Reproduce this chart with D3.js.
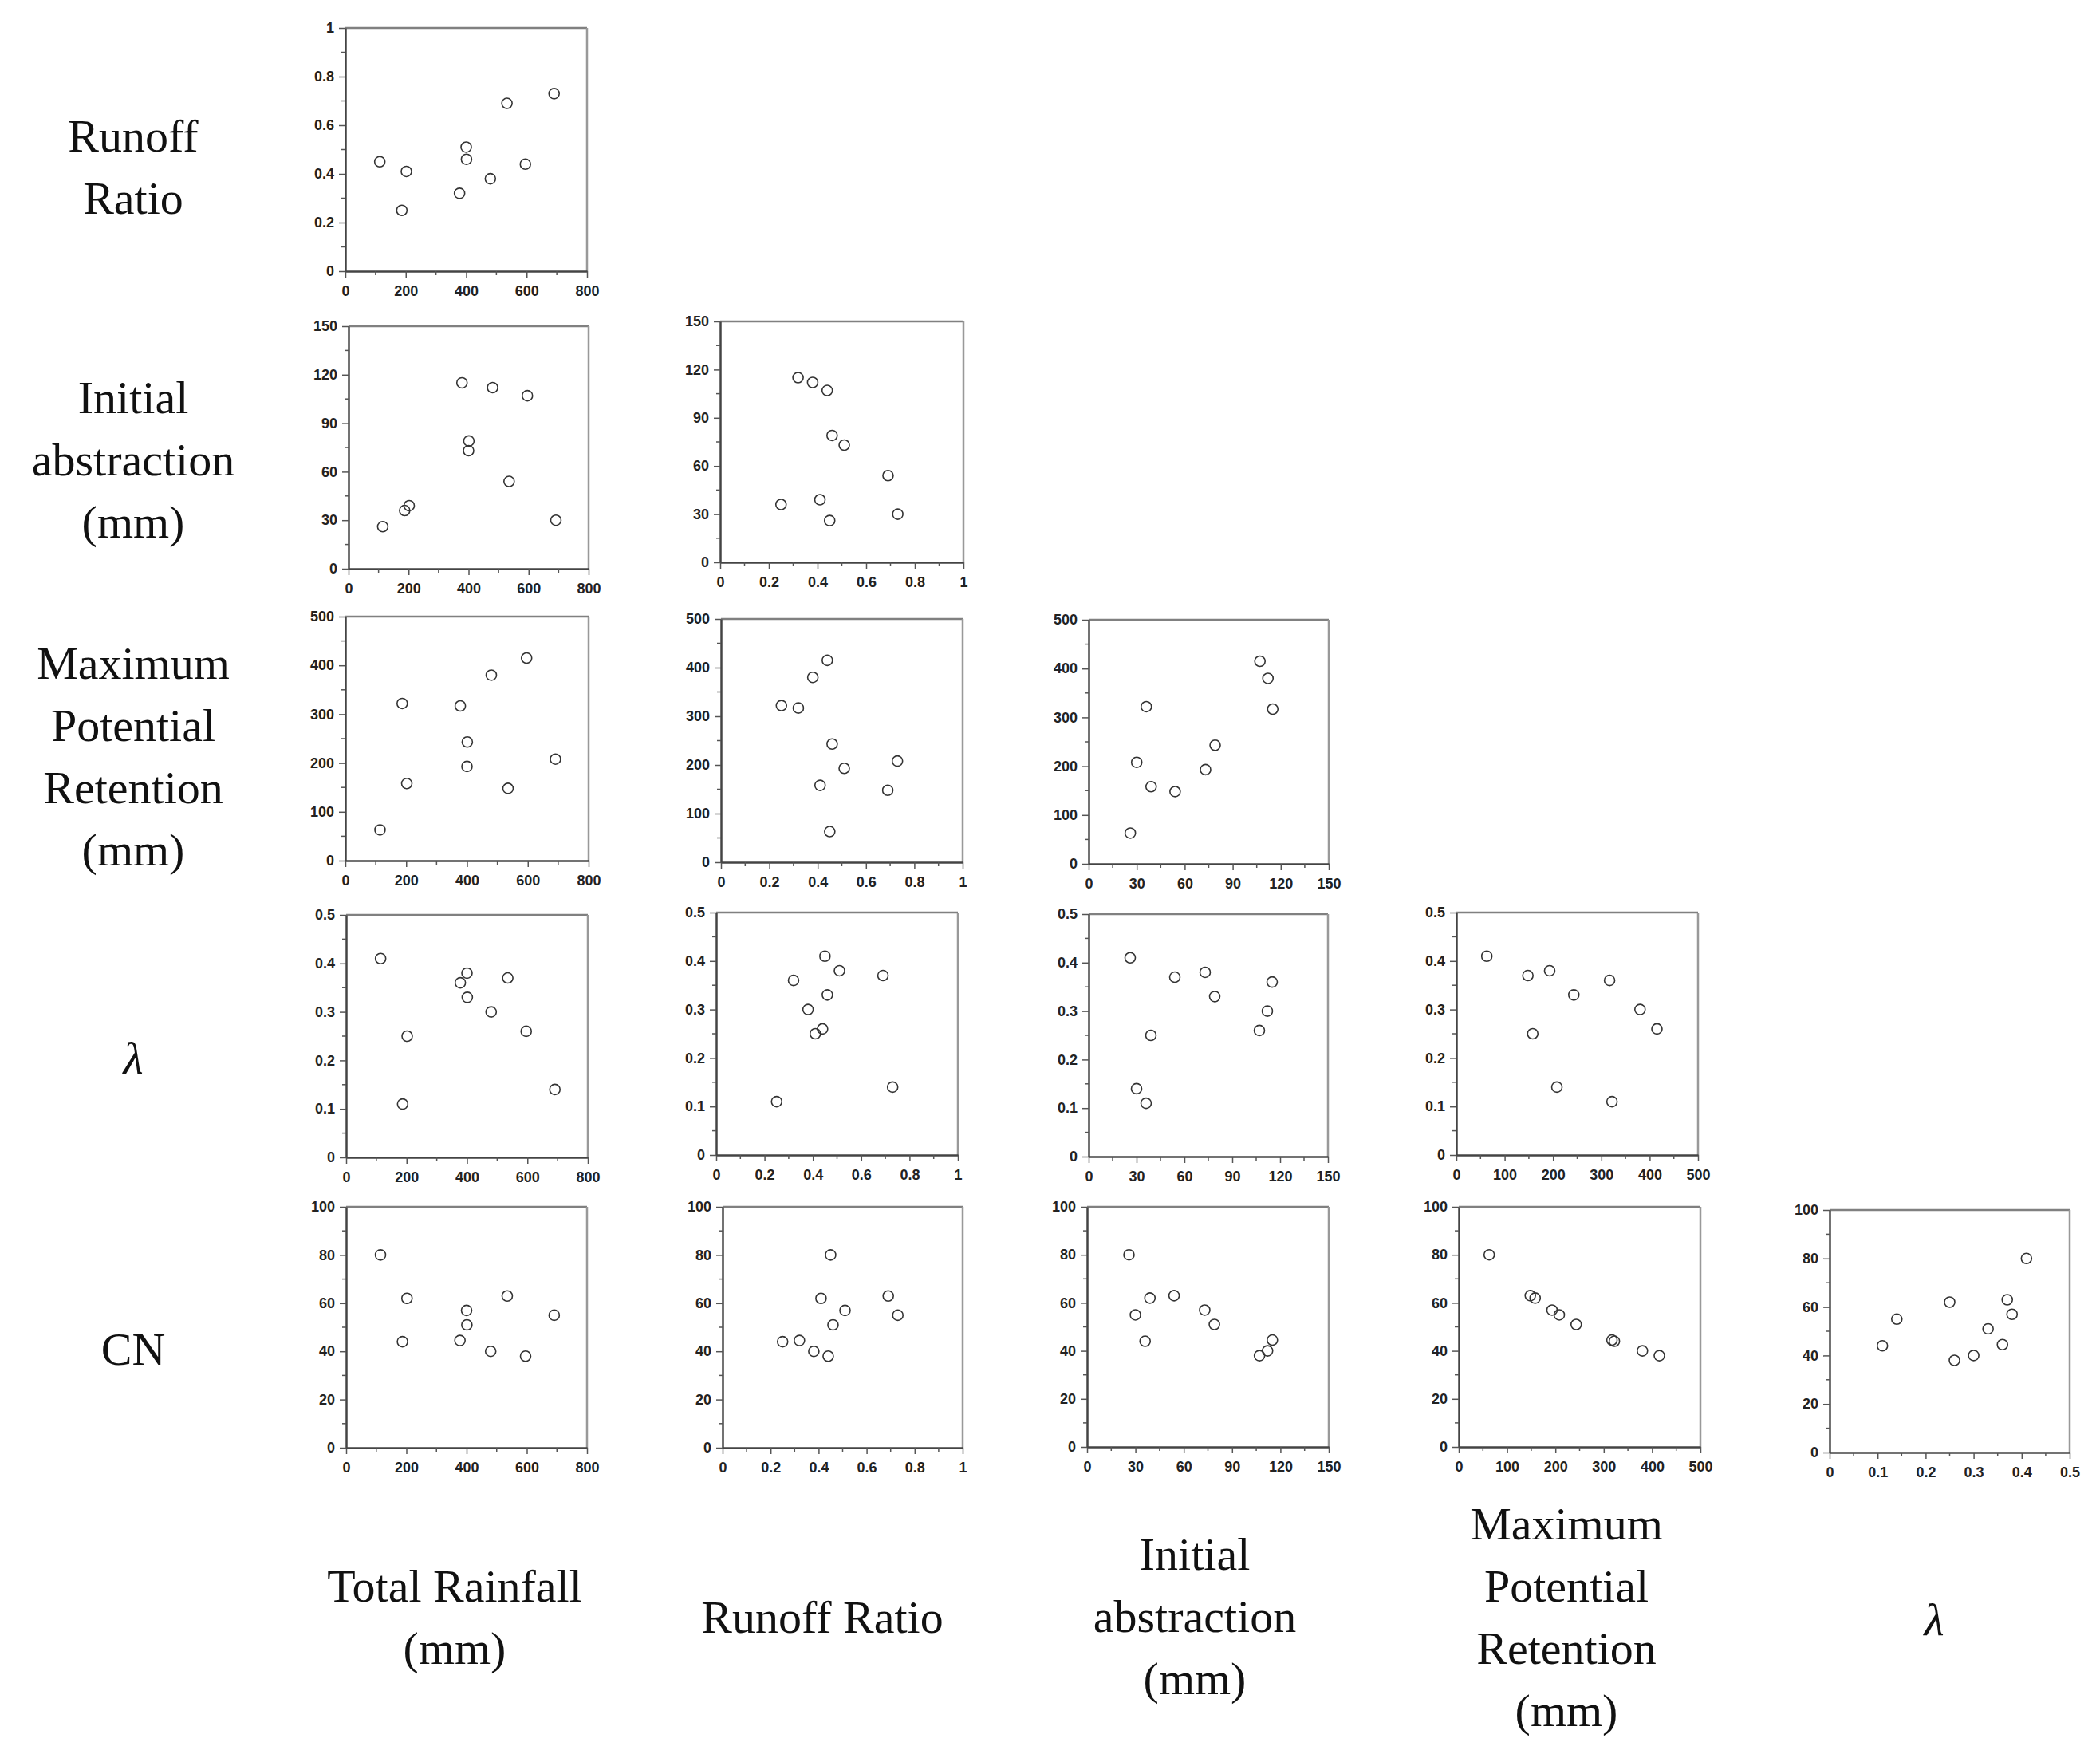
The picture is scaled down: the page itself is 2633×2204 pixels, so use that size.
<!DOCTYPE html>
<html>
<head>
<meta charset="utf-8">
<script src="https://cdn.jsdelivr.net/npm/d3@7"></script>
<style>
  body { margin: 0; background: #fff; }
  .tick-label { font-family: "Liberation Sans", Arial, sans-serif; font-weight: bold; font-size: 18px; fill: #222; }
  .var-label { font-family: "Liberation Serif", "Times New Roman", serif; font-size: 58px; fill: #111; }
</style>
</head>
<body>
<div id="matrix"></div>
<script>
/* Scatter plot matrix of the storm events (lower triangle) */

// one value per storm event, same order in every array
var rainfall = [114, 187, 202, 378, 400, 401, 480, 535, 596, 691];
var runoffRatio = [0.45, 0.25, 0.41, 0.32, 0.51, 0.46, 0.38, 0.69, 0.44, 0.73];
var initialAbs = [26, 36, 39, 115, 73, 79, 112, 54, 107, 30];
var maxRetention = [63, 322, 158, 317, 193, 243, 380, 148, 415, 208];
var lambdaVals = [0.41, 0.11, 0.25, 0.36, 0.38, 0.33, 0.30, 0.37, 0.26, 0.14];
var curveNumber = [80, 44, 62, 44.5, 57, 51, 40, 63, 38, 55];

// axis ranges and ticks
var rainfallTicks = [0, 200, 400, 600, 800];
var rainfallMinor = [100, 300, 500, 700];
var ratioTicks = [0, 0.2, 0.4, 0.6, 0.8, 1];
var ratioMinor = [0.1, 0.3, 0.5, 0.7, 0.9];
var iaTicks = [0, 30, 60, 90, 120, 150];
var iaMinor = [15, 45, 75, 105, 135];
var retentionTicks = [0, 100, 200, 300, 400, 500];
var retentionMinor = [50, 150, 250, 350, 450];
var lambdaTicks = [0, 0.1, 0.2, 0.3, 0.4, 0.5];
var lambdaMinor = [0.05, 0.15, 0.25, 0.35, 0.45];
var cnTicks = [0, 20, 40, 60, 80, 100];
var cnMinor = [10, 30, 50, 70, 90];

// names as printed under the columns and beside the rows
var colNames = [["Total Rainfall", "(mm)"], ["Runoff Ratio"], ["Initial", "abstraction", "(mm)"], ["Maximum", "Potential", "Retention", "(mm)"], ["λ"]];
var rowNames = [["Runoff", "Ratio"], ["Initial", "abstraction", "(mm)"], ["Maximum", "Potential", "Retention", "(mm)"], ["λ"], ["CN"]];

var variables = [
  {values: rainfall, domain: [0, 800], ticks: rainfallTicks, minor: rainfallMinor},
  {values: runoffRatio, domain: [0, 1], ticks: ratioTicks, minor: ratioMinor},
  {values: initialAbs, domain: [0, 150], ticks: iaTicks, minor: iaMinor},
  {values: maxRetention, domain: [0, 500], ticks: retentionTicks, minor: retentionMinor},
  {values: lambdaVals, domain: [0, 0.5], ticks: lambdaTicks, minor: lambdaMinor},
  {values: curveNumber, domain: [0, 100], ticks: cnTicks, minor: cnMinor}
];

// panel boxes [left, top, right, bottom], row r plots variable r+1 against column c
var boxes = [
  [[433, 35, 736, 340]],
  [[437, 409, 738, 713], [903, 403, 1208, 705]],
  [[433, 773, 738, 1079], [904, 776, 1207, 1081], [1365, 777, 1666, 1083]],
  [[434, 1147, 737, 1451], [898, 1144, 1201, 1448], [1365, 1146, 1665, 1450], [1826, 1144, 2129, 1448]],
  [[434, 1513, 736, 1815], [906, 1513, 1207, 1815], [1363, 1513, 1666, 1814], [1829, 1513, 2132, 1814], [2294, 1517, 2595, 1821]]
];

// label positions (centre x, first baseline y)
var rowLabelPos = [[167, 190], [167, 518], [167, 851], [167, 1346], [167, 1711]];
var colLabelPos = [[570, 2008], [1031, 2047], [1498, 1968], [1964, 1930], [2425, 2050]];
var lineGap = 78;

var svg = d3.select("#matrix")
  .append("svg")
    .attr("width", 2633)
    .attr("height", 2204)
    .style("background", "#fff");

function fmt(v) {
  return String(+v.toFixed(2));
}

function drawPanel(box, xv, yv) {
  var x = d3.scaleLinear().domain(xv.domain).range([box[0], box[2]]);
  var y = d3.scaleLinear().domain(yv.domain).range([box[3], box[1]]);
  var g = svg.append("g");

  // frame: dark left/bottom axes, lighter top/right
  g.append("line").attr("x1", box[0]).attr("x2", box[2]).attr("y1", box[1]).attr("y2", box[1])
    .attr("stroke", "#808080").attr("stroke-width", 2.5);
  g.append("line").attr("x1", box[2]).attr("x2", box[2]).attr("y1", box[1]).attr("y2", box[3])
    .attr("stroke", "#999").attr("stroke-width", 2.5);

  var xAxis = g.append("g")
    .attr("transform", "translate(0," + box[3] + ")");
  xAxis.call(d3.axisBottom(x).tickValues(xv.ticks).tickFormat(fmt).tickSize(8).tickPadding(10).tickSizeOuter(0));
  xAxis.selectAll(".minor")
    .data(xv.minor)
    .enter()
    .append("line")
      .attr("x1", function(d) { return x(d); })
      .attr("x2", function(d) { return x(d); })
      .attr("y1", 0)
      .attr("y2", 5)
      .attr("stroke", "#555")
      .attr("stroke-width", 1.5);

  var yAxis = g.append("g")
    .attr("transform", "translate(" + box[0] + ",0)");
  yAxis.call(d3.axisLeft(y).tickValues(yv.ticks).tickFormat(fmt).tickSize(8).tickPadding(6).tickSizeOuter(0));
  yAxis.selectAll(".minor")
    .data(yv.minor)
    .enter()
    .append("line")
      .attr("x1", 0)
      .attr("x2", -5)
      .attr("y1", function(d) { return y(d); })
      .attr("y2", function(d) { return y(d); })
      .attr("stroke", "#555")
      .attr("stroke-width", 1.5);

  g.selectAll(".domain").attr("stroke", "#444").attr("stroke-width", 2.5);
  g.selectAll(".tick line").attr("stroke", "#555").attr("stroke-width", 1.5);
  g.selectAll(".tick text")
    .attr("class", "tick-label")
    .attr("font-family", null)
    .attr("font-size", null);

  g.selectAll("circle")
    .data(xv.values.map(function(d, i) { return [d, yv.values[i]]; }))
    .enter()
    .append("circle")
      .attr("cx", function(d) { return x(d[0]); })
      .attr("cy", function(d) { return y(d[1]); })
      .attr("r", 6.5)
      .attr("fill", "none")
      .attr("stroke", "#333")
      .attr("stroke-width", 1.6);
}

for (var r = 0; r < 5; r++) {
  for (var c = 0; c <= r; c++) {
    drawPanel(boxes[r][c], variables[c], variables[r + 1]);
  }
}

function addLabel(lines, pos) {
  var t = svg.append("text")
    .attr("class", "var-label")
    .attr("text-anchor", "middle")
    .style("font-style", lines[0] == "λ" ? "italic" : "normal");
  lines.forEach(function(line, i) {
    t.append("tspan")
      .attr("x", pos[0])
      .attr("y", pos[1] + i * lineGap)
      .text(line);
  });
}

for (var i = 0; i < 5; i++) {
  addLabel(rowNames[i], rowLabelPos[i]);
  addLabel(colNames[i], colLabelPos[i]);
}
</script>
</body>
</html>
